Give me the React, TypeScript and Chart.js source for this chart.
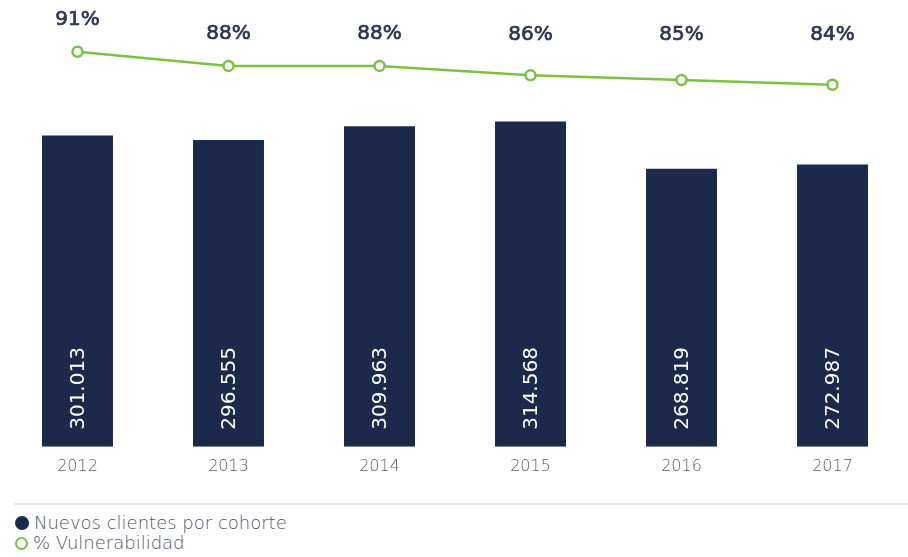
import React, { useEffect, useRef } from "react";
import { Chart, registerables } from "chart.js";

Chart.register(...registerables);

const years = ["2012", "2013", "2014", "2015", "2016", "2017"];
const nuevosClientes = [301013, 296555, 309963, 314568, 268819, 272987];
const vulnerabilidad = [91, 88, 88, 86, 85, 84];
const barLabels = ["301.013", "296.555", "309.963", "314.568", "268.819", "272.987"];
const pctLabels = ["91%", "88%", "88%", "86%", "85%", "84%"];

const NAVY = "#1b2a4b";
const GREEN = "#7cc242";
const FONT = "'DejaVu Sans', 'Noto Sans', sans-serif";

const labelPlugin = {
  id: "labelPlugin",
  afterDatasetsDraw(chart: any) {
    const ctx = chart.ctx;
    const barMeta = chart.getDatasetMeta(0);
    const lineMeta = chart.getDatasetMeta(1);
    ctx.save();
    barMeta.data.forEach((bar: any, i: number) => {
      ctx.save();
      ctx.translate(bar.x, bar.base - 17);
      ctx.rotate(-Math.PI / 2);
      ctx.fillStyle = "#ffffff";
      ctx.font = `400 20px ${FONT}`;
      ctx.textAlign = "left";
      ctx.textBaseline = "middle";
      ctx.fillText(barLabels[i], 0, 1);
      ctx.restore();
    });
    lineMeta.data.forEach((pt: any, i: number) => {
      ctx.fillStyle = "#2e3552";
      ctx.strokeStyle = "#2e3552";
      ctx.lineWidth = 0.7;
      ctx.font = `400 20px ${FONT}`;
      ctx.textAlign = "center";
      ctx.textBaseline = "middle";
      const y = Math.min(pt.y - 32, 35);
      ctx.fillText(pctLabels[i], pt.x, y);
      ctx.strokeText(pctLabels[i], pt.x, y);
    });
    ctx.restore();
  },
};

export default function App() {
  const canvasRef = useRef<HTMLCanvasElement | null>(null);

  useEffect(() => {
    if (!canvasRef.current) return;
    const chart = new Chart(canvasRef.current, {
      type: "bar",
      data: {
        labels: years,
        datasets: [
          {
            type: "bar",
            label: "Nuevos clientes por cohorte",
            data: nuevosClientes,
            backgroundColor: NAVY,
            barPercentage: 0.47,
            categoryPercentage: 1,
            yAxisID: "y",
            order: 2,
          },
          {
            type: "line",
            label: "% Vulnerabilidad",
            data: vulnerabilidad,
            borderColor: GREEN,
            borderWidth: 2.5,
            pointRadius: 5,
            pointBorderWidth: 2.5,
            pointBackgroundColor: "#ffffff",
            pointBorderColor: GREEN,
            yAxisID: "y2",
            order: 1,
          },
        ] as any,
      },
      options: {
        animation: false,
        responsive: true,
        maintainAspectRatio: false,
        layout: { autoPadding: false, padding: { left: 2, right: 0, top: 0, bottom: 0 } },
        plugins: {
          legend: { display: false },
          tooltip: { enabled: false },
        },
        scales: {
          x: {
            grid: { display: false, drawTicks: false },
            border: { display: false },
            ticks: {
              color: "#5a5b73",
              font: { family: FONT, size: 16, weight: 300 as any },
              padding: 10,
            },
          },
          y: { display: false, min: 0, max: 432000 },
          y2: { display: false, min: 7.1, max: 102 },
        },
      },
      plugins: [labelPlugin],
    });
    return () => chart.destroy();
  }, []);

  return (
    <div
      style={{
        position: "absolute",
        top: 0,
        left: 0,
        width: 908,
        height: 557,
        background: "#ffffff",
        fontFamily: FONT,
      }}
    >
      <div style={{ position: "relative", width: 908, height: 486 }}>
        <canvas ref={canvasRef} />
      </div>
      <div
        style={{
          position: "absolute",
          left: 14,
          right: 0,
          top: 503,
          height: 2,
          background: "#e8e8e8",
        }}
      />
      <div
        style={{
          position: "absolute",
          left: 15,
          top: 513,
          color: "#4f546b",
          fontSize: 18,
          lineHeight: "20px",
          fontWeight: 300,
        }}
      >
        <div style={{ display: "flex", alignItems: "center" }}>
          <span
            style={{
              display: "inline-block",
              width: 14,
              height: 14,
              borderRadius: "50%",
              background: NAVY,
              marginRight: 5,
            }}
          />
          <span>Nuevos clientes por cohorte</span>
        </div>
        <div style={{ display: "flex", alignItems: "center" }}>
          <span
            style={{
              display: "inline-block",
              width: 9,
              height: 9,
              borderRadius: "50%",
              border: `2.5px solid ${GREEN}`,
              background: "#ffffff",
              marginRight: 5,
            }}
          />
          <span>% Vulnerabilidad</span>
        </div>
      </div>
    </div>
  );
}
